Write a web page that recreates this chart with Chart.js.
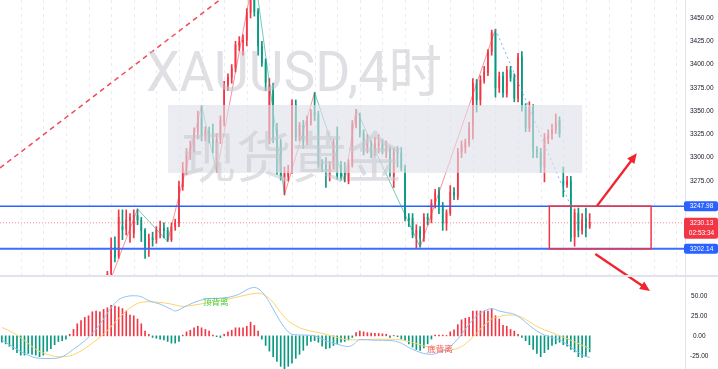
<!DOCTYPE html>
<html>
<head>
<meta charset="utf-8">
<script src="https://cdn.jsdelivr.net/npm/chart.js@4.4.1/dist/chart.umd.min.js"></script>
<style>
  html, body { margin: 0; padding: 0; background: #fff; overflow: hidden; }
  canvas { display: block; }
</style>
</head>
<body>
<canvas id="chart" width="718" height="369"></canvas>
<script>
// XAUUSD 4h candles (index 0 = first MACD bar on the left)
const candleStart = 28;
const opens  = [3160,3176,3204,3195,3226,3223,3233,3219,3238,3233,3222,3203,3214,3212,3222,3224,3222,3212,3226,3230,3269,3289,3303,3311,3328,3343,3323,3328,3319,3316,
                3320,3338,3378,3386,3397,3421,3424,3426,3456,3478,3457,3420,3402,3319,3378,3330,3317,3279,3280,3287,3357,3322,3335,3318,3338,3349,3346,3294,3292,3281,
                3292,3322,3292,3285,3275,3292,3335,3344,3326,3311,3311,3306,3313,3315,3308,3309,3280,3308,3305,3289,3235,3235,3217,3222,3214,3236,3234,3250,3264,3249,
                3230,3241,3263,3258,3306,3311,3316,3335,3380,3362,3383,3391,3414,3434,3375,3387,3369,3394,3386,3364,3408,3354,3332,3354,3308,3306,3290,3320,3325,3330,
                3340,3275,3271,3275,3215,3240,3222,3235,3226];
const highs  = [3178,3214,3215,3244,3244,3244,3240,3244,3245,3236,3224,3218,3220,3226,3232,3230,3225,3230,3234,3275,3295,3310,3318,3332,3350,3356,3333,3333,3336,3326,
                3345,3382,3390,3400,3425,3430,3432,3460,3485,3500,3460,3425,3406,3385,3380,3337,3320,3290,3292,3362,3362,3338,3340,3345,3352,3370,3350,3298,3300,3296,
                3320,3333,3296,3295,3298,3340,3352,3348,3330,3325,3318,3322,3325,3320,3318,3312,3310,3312,3311,3292,3240,3240,3228,3226,3240,3240,3255,3266,3268,3252,
                3244,3270,3268,3310,3318,3320,3338,3385,3384,3388,3398,3416,3437,3438,3392,3392,3398,3398,3390,3412,3414,3358,3360,3357,3312,3310,3326,3330,3336,3347,
                3344,3290,3280,3280,3245,3246,3240,3246,3240];
const lows   = [3155,3172,3188,3192,3212,3217,3209,3214,3228,3210,3192,3194,3205,3208,3214,3214,3210,3210,3222,3226,3265,3282,3298,3306,3320,3318,3318,3316,3305,3284,
                3315,3334,3372,3380,3392,3415,3410,3420,3450,3452,3410,3398,3372,3315,3316,3282,3276,3260,3275,3283,3318,3318,3310,3314,3335,3340,3290,3285,3268,3275,
                3288,3277,3276,3274,3272,3290,3332,3322,3303,3305,3300,3302,3305,3304,3300,3280,3268,3290,3286,3232,3226,3214,3203,3204,3210,3228,3230,3246,3240,3222,
                3222,3238,3255,3255,3300,3305,3312,3320,3349,3356,3380,3388,3410,3365,3370,3365,3365,3382,3360,3360,3350,3328,3328,3300,3300,3284,3274,3315,3320,3326,
                3322,3258,3268,3210,3205,3215,3218,3215,3224];
const closes = [3175,3204,3193,3236,3223,3233,3236,3238,3233,3222,3203,3214,3212,3222,3224,3222,3212,3226,3230,3269,3289,3303,3311,3326,3343,3323,3328,3322,3316,3320,
                3340,3378,3386,3396,3421,3424,3426,3456,3475,3457,3420,3402,3381,3378,3319,3316,3280,3283,3286,3357,3322,3335,3316,3340,3348,3346,3294,3292,3281,3292,
                3317,3281,3281,3282,3292,3335,3344,3326,3311,3316,3306,3315,3315,3308,3309,3284,3306,3305,3289,3235,3233,3217,3222,3214,3236,3234,3251,3262,3249,3230,
                3241,3263,3260,3306,3314,3316,3333,3380,3362,3383,3392,3414,3434,3375,3387,3370,3394,3386,3364,3408,3354,3332,3354,3308,3306,3290,3321,3324,3330,3338,
                3326,3271,3275,3214,3241,3222,3233,3225,3230.13];

// ZigZag pivots [index, price]; last leg drawn dotted blue
const zigzagPivots = [[28,3160],[36,3245],[44,3210],[53,3356],[57,3284],[67,3500],[75,3260],[83,3370],[91,3274],[94,3352],[111,3204],[131,3438]];
const dropLeg = [[131,3438],[151,3248]];
const trendLine = [[-0.5,3289],[70,3507]];

const levelHigh = 3247.98;
const levelLow = 3202.14;
const lastPrice = 3230.13;
const countdown = '02:53:34';
const priceTicks = [3275, 3300, 3325, 3350, 3375, 3400, 3425, 3450];
const macdTicks = [-25, 0, 25, 50];

// MACD histogram per bar, DIF / DEA as [index, value]
const macdHist = [-8,-10,-13,-17,-21,-24,-24,-22,-23,-24,-26,-24,-19,-16,-11,-7,-6,-4,
                  2,8,15,19,23,25,30,31,30,33,35,38,37,36,34,31,26,25,21,15,6,2,
                  -2,-3,-4,-5,-7,-9,-9,-7,1,
                  5,7,10,12,10,8,6,1,
                  -1,-2,
                  2,5,7,10,10,10,12,17,13,6,
                  -4,-12,-19,-26,-32,-38,-41,-38,-34,-28,-23,-18,-12,-7,-6,-8,-13,-16,-15,-12,-10,-8,-7,-5,-2,
                  4,6,5,4,3.5,3,3,2.5,2,
                  -2,0.5,-1,
                  -4,-6,-10,-14,-17,-18,-15,-10,-4,
                  1,1,1,0.5,
                  5,7.5,14,20,22,23,31,31,31,31,31,34,25,21,13,12,8,6,2,
                  -2,-6,-11,-17,-22,-26,-21,-17,-12,-10,-8,-11,-13,-17,-20,-26,-27,-26,-20];
const difLine = [[0,-5],[4,-16.7],[8,-26],[10,-28],[13,-28.3],[16,-26],[19,-16.7],[22,-6],[25,8.3],[27,21],[29,35],[31,45],[33,49],[35,50],
                 [37,48.8],[39,43.8],[42,39.6],[45,33],[46,31],[48,35],[51,41.7],[54,45.8],[57,46.7],[60,48],[63,52],[65,57.5],[67,60.4],[69,55],
                 [71,41.7],[73,25],[75,10.4],[77,2],[80,1],[83,0],[86,-6],[89,-10.4],[92,-13.3],[93.5,-10],[95,-4.5],[99,-5.4],[103,-5.8],[106,-9],
                 [108,-14.6],[110,-18.8],[112,-22],[114,-23],[116,-20.8],[118,-16.7],[120,-9],[122,2],[124,14.6],[126,25],[128,31],[130,34],[132,31],
                 [134,29],[136,27],[138,21],[140,13],[142,6],[144,1],[146,-2],[148,-5],[150,-10.4],[152,-17.5],[154,-24],[156,-27]];
const deaLine = [[0,10.4],[3,4],[6,-6],[9,-16.7],[12,-23],[15,-26],[18,-25],[21,-18.8],[24,-9],[27,2],[30,16.7],[33,31],[36,40.4],[39,42.5],
                 [42,41.7],[45,39.6],[48,36.7],[51,38.3],[54,40.8],[57,42.5],[60,45.8],[63,49],[66,52],[68,53.3],[70,50],[72,41.7],[74,29],[76,18.8],
                 [78,12.5],[80,8.3],[83,5],[86,2],[89,-2],[92,-5],[95,-5],[99,-4.2],[103,-4.2],[106,-5],[109,-8.3],[112,-12.5],[115,-15.8],[118,-17.5],
                 [120,-16.7],[122,-13.3],[124,-6],[126,3.3],[128,13.3],[130,21],[132,24],[134,26],[136,25.8],[138,23],[140,17.5],[142,11.7],[144,7.5],
                 [146,4],[148,0],[150,-3.3],[152,-7.5],[154,-11.7],[156,-15.8]];

// drawings: [index, price] pairs
const zoneBox = [[44.1, 3356.6], [154.0, 3283.6]];
const boxRange = [145.3, 172.3];
const arrowUp = [[157.9, 3248], [168.5, 3304.7]];
const arrowDown = [[157.5, 3196.6], [172.0, 3157]];
const divergenceTop = { text: '顶背离', x: 53.4, y: 42 };
const divergenceBottom = { text: '底背离', x: 112.9, y: -16.6 };

const UP = '#f23645';
const DOWN = '#089981';
const X_MIN = -0.5, X_MAX = 181.3;

const candleIdx = opens.map((_, k) => candleStart + k);
const candleColor = ctx => (closes[ctx.dataIndex] >= opens[ctx.dataIndex] ? UP : DOWN);
const pts = arr => arr.map(([x, y]) => ({ x, y }));
const hline = v => [{ x: X_MIN, y: v }, { x: X_MAX, y: v }];

function drawArrow(ctx, x0, y0, x1, y1) {
  const a = Math.atan2(y1 - y0, x1 - x0);
  const L = 10, W = 4.5;
  ctx.beginPath();
  ctx.moveTo(x0, y0);
  ctx.lineTo(x1 - L * 0.7 * Math.cos(a), y1 - L * 0.7 * Math.sin(a));
  ctx.stroke();
  ctx.beginPath();
  ctx.moveTo(x1, y1);
  ctx.lineTo(x1 - L * Math.cos(a) + W * Math.sin(a), y1 - L * Math.sin(a) - W * Math.cos(a));
  ctx.lineTo(x1 - L * Math.cos(a) - W * Math.sin(a), y1 - L * Math.sin(a) + W * Math.cos(a));
  ctx.closePath();
  ctx.fill();
}

function tag(ctx, yc, h, bg, lines) {
  ctx.fillStyle = bg;
  ctx.beginPath();
  ctx.roundRect(684, yc - 5, 34, h, 2);
  ctx.fill();
  ctx.fillStyle = '#fff';
  ctx.font = '6.5px "Liberation Sans", Arial, sans-serif';
  ctx.textAlign = 'center';
  ctx.textBaseline = 'middle';
  lines.forEach((t, n) => ctx.fillText(t, 701.5, yc + n * 10.5));
}

// keep the panes flush with the canvas edges
function flushPane(s) {
  s.width = 33;
  s.paddingTop = 0;
  s.paddingBottom = 0;
}

const drawings = {
  id: 'drawings',
  beforeDatasetsDraw(chart) {
    const { ctx, scales: { x, y } } = chart;
    ctx.save();
    ctx.strokeStyle = '#e9ebf0';
    ctx.lineWidth = 1;
    ctx.setLineDash([3, 4]);
    for (let v = 5; v < X_MAX; v += 6) {
      const px = Math.round(x.getPixelForValue(v)) + 0.5;
      ctx.beginPath();
      ctx.moveTo(px, y.top);
      ctx.lineTo(px, y.bottom);
      ctx.stroke();
    }
    ctx.restore();
  },
  afterDatasetsDraw(chart) {
    const { ctx, scales: { x, y, y2 } } = chart;
    ctx.save();
    // grey zone
    const zx0 = x.getPixelForValue(zoneBox[0][0]), zx1 = x.getPixelForValue(zoneBox[1][0]);
    const zy0 = y.getPixelForValue(zoneBox[0][1]), zy1 = y.getPixelForValue(zoneBox[1][1]);
    ctx.fillStyle = 'rgba(222,224,232,0.62)';
    ctx.fillRect(zx0, zy0, zx1 - zx0, zy1 - zy0);

    // watermark
    ctx.fillStyle = 'rgba(198,199,206,0.55)';
    ctx.textBaseline = 'alphabetic';
    ctx.textAlign = 'left';
    ctx.font = '55px Roboto, "Noto Sans CJK SC", sans-serif';
    const t1 = 'XAUUSD,4时';
    const w1 = ctx.measureText(t1).width;
    ctx.save();
    ctx.translate(146, 91);
    ctx.scale(296 / w1, 1);
    ctx.fillText(t1, 0, 0);
    ctx.restore();
    ctx.font = '55px "Noto Sans CJK SC", sans-serif';
    const t2 = '现货黄金';
    const w2 = ctx.measureText(t2).width;
    ctx.save();
    ctx.translate(181, 177);
    ctx.scale(221 / w2, 1);
    ctx.fillText(t2, 0, 0);
    ctx.restore();

    // red range box
    const bx0 = x.getPixelForValue(boxRange[0]), bx1 = x.getPixelForValue(boxRange[1]);
    const by0 = y.getPixelForValue(levelHigh), by1 = y.getPixelForValue(levelLow);
    ctx.strokeStyle = UP;
    ctx.lineWidth = 1.5;
    ctx.strokeRect(bx0, by0, bx1 - bx0, by1 - by0);

    // arrows
    ctx.strokeStyle = '#f0252f';
    ctx.fillStyle = '#f0252f';
    ctx.lineWidth = 2.4;
    [arrowUp, arrowDown].forEach(([p0, p1]) => {
      drawArrow(ctx, x.getPixelForValue(p0[0]), y.getPixelForValue(p0[1]),
                     x.getPixelForValue(p1[0]), y.getPixelForValue(p1[1]));
    });

    // divergence labels
    ctx.font = '8.5px "Noto Sans CJK SC", sans-serif';
    ctx.textBaseline = 'middle';
    ctx.fillStyle = '#3fd13f';
    ctx.fillText(divergenceTop.text, x.getPixelForValue(divergenceTop.x), y2.getPixelForValue(divergenceTop.y));
    ctx.fillStyle = '#f0505a';
    ctx.fillText(divergenceBottom.text, x.getPixelForValue(divergenceBottom.x), y2.getPixelForValue(divergenceBottom.y));
    ctx.restore();
  },
  afterDraw(chart) {
    const { ctx, scales: { y } } = chart;
    ctx.save();
    ctx.fillStyle = '#e0e3eb';
    ctx.fillRect(0, y.bottom - 1, 718, 2);
    tag(ctx, y.getPixelForValue(levelHigh), 10, '#2962ff', [levelHigh.toFixed(2)]);
    tag(ctx, y.getPixelForValue(levelLow), 10, '#2962ff', [levelLow.toFixed(2)]);
    tag(ctx, y.getPixelForValue(lastPrice), 21, UP, [lastPrice.toFixed(2), countdown]);
    ctx.restore();
  }
};

const lineBase = { type: 'line', pointRadius: 0, borderWidth: 1, yAxisID: 'y', clip: 0, order: 0 };

new Chart(document.getElementById('chart'), {
  type: 'bar',
  data: {
    datasets: [
      { ...lineBase, data: pts(zigzagPivots),
        segment: { borderColor: c => (c.p1.parsed.y > c.p0.parsed.y ? 'rgba(242,54,69,0.55)' : 'rgba(8,153,129,0.55)') } },
      { ...lineBase, data: pts(dropLeg), borderColor: 'rgba(90,160,235,0.8)', borderDash: [2, 3] },
      { ...lineBase, data: pts(trendLine), borderColor: '#f04b58', borderWidth: 1.5, borderDash: [5, 4] },
      { ...lineBase, data: hline(levelHigh), borderColor: '#2962ff', borderWidth: 1.5 },
      { ...lineBase, data: hline(levelLow), borderColor: '#3d6cff', borderWidth: 2 },
      { ...lineBase, data: hline(lastPrice), borderColor: 'rgba(242,54,69,0.6)', borderDash: [1, 2] },
      { type: 'bar', data: candleIdx.map((i, k) => ({ x: i, y: [opens[k], closes[k]] })),
        backgroundColor: candleColor, grouped: false, barThickness: 1, maxBarThickness: 3, minBarLength: 1,
        yAxisID: 'y', clip: 0, order: 1 },
      { type: 'bar', data: candleIdx.map((i, k) => ({ x: i, y: [lows[k], highs[k]] })),
        backgroundColor: candleColor, grouped: false, barThickness: 1, maxBarThickness: 1,
        yAxisID: 'y', clip: 0, order: 2 },
      { type: 'bar', data: macdHist.map((v, i) => ({ x: i, y: v })),
        backgroundColor: ctx => (macdHist[ctx.dataIndex] >= 0 ? UP : DOWN),
        grouped: false, barThickness: 1, maxBarThickness: 2.6, yAxisID: 'y2', clip: 0, order: 3 },
      { type: 'line', data: pts(difLine), borderColor: '#8fc3f2', borderWidth: 1, pointRadius: 0,
        cubicInterpolationMode: 'monotone', yAxisID: 'y2', clip: 0, order: 0 },
      { type: 'line', data: pts(deaLine), borderColor: '#fbd36c', borderWidth: 1, pointRadius: 0,
        cubicInterpolationMode: 'monotone', yAxisID: 'y2', clip: 0, order: 0 }
    ]
  },
  options: {
    responsive: false,
    animation: false,
    events: [],
    layout: { padding: 0 },
    plugins: { legend: { display: false }, tooltip: { enabled: false } },
    scales: {
      x: {
        type: 'linear', min: X_MIN, max: X_MAX, offset: false, display: false,
        afterBuildTicks: s => { s.ticks = [{ value: 5 }, { value: 89 }, { value: 173 }]; }
      },
      y: {
        type: 'linear', position: 'right', stack: 'panes', stackWeight: 276, weight: 1,
        min: 3173, max: 3469.3,
        grid: { display: false, drawTicks: false },
        border: { display: true, color: '#e0e3eb' },
        afterBuildTicks: s => { s.ticks = priceTicks.map(v => ({ value: v })); },
        afterFit: flushPane,
        ticks: { padding: 5, crossAlign: 'center', color: '#131722',
                 font: { size: 6.5, family: '"Liberation Sans", Arial, sans-serif' },
                 callback: v => Number(v).toFixed(2) }
      },
      y2: {
        type: 'linear', position: 'right', stack: 'panes', stackWeight: 93, weight: 2,
        min: -41.3, max: 74.6,
        grid: { display: false, drawTicks: false },
        border: { display: true, color: '#e0e3eb' },
        afterBuildTicks: s => { s.ticks = macdTicks.map(v => ({ value: v })); },
        afterFit: flushPane,
        ticks: { padding: 5, crossAlign: 'center', color: '#131722',
                 font: { size: 6.5, family: '"Liberation Sans", Arial, sans-serif' },
                 callback: v => Number(v).toFixed(2) }
      }
    }
  },
  plugins: [drawings]
});
</script>
</body>
</html>
